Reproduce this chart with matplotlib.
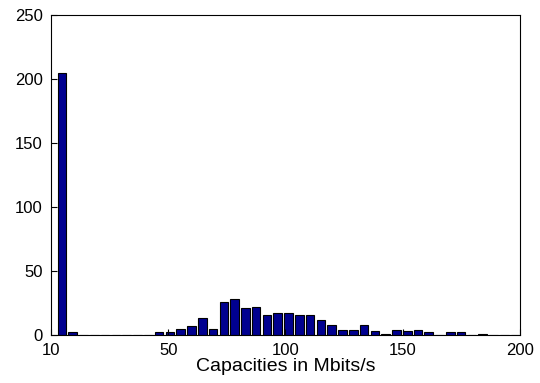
import matplotlib.pyplot as plt
import numpy as np

plt.rcParams['font.family'] = ['Liberation Sans', 'DejaVu Sans']

# histogram of link capacities, 43 bins
bin_start = 2.4
bin_width = 4.6
counts = [205, 2, 0, 0, 0, 0, 0, 0, 0, 2, 2, 5, 7, 13, 5, 26, 28, 21, 22, 16,
          17, 17, 16, 16, 12, 8, 4, 4, 8, 3, 1, 4, 3, 4, 2, 0, 2, 2, 0, 1,
          0, 0, 0]
xtick_pos = [0, 50, 100, 150, 200]
xtick_labels = ['10', '50', '100', '150', '200']
ytick_pos = [0, 50, 100, 150, 200, 250]

centers = bin_start + bin_width * (np.arange(len(counts)) + 0.5)

fig = plt.figure(figsize=(5.4, 3.83), dpi=100)
ax = fig.add_axes([0.0944, 0.1253, 0.8686, 0.8355])

ax.bar(centers, counts, width=bin_width * 0.8, color='#000090',
       edgecolor='black', linewidth=0.8)

ax.set_xlim(0, 200)
ax.set_ylim(0, 250)
ax.set_xticks(xtick_pos)
ax.set_xticklabels(xtick_labels)
ax.set_yticks(ytick_pos)
ax.tick_params(direction='in', length=4, labelsize=12)
ax.tick_params(axis='x', pad=6)
ax.tick_params(axis='y', pad=6)
ax.set_xlabel('Capacities in Mbits/s', fontsize=14, labelpad=0)
for s in ax.spines.values():
    s.set_linewidth(0.8)

fig.savefig('out.png', dpi=100)
